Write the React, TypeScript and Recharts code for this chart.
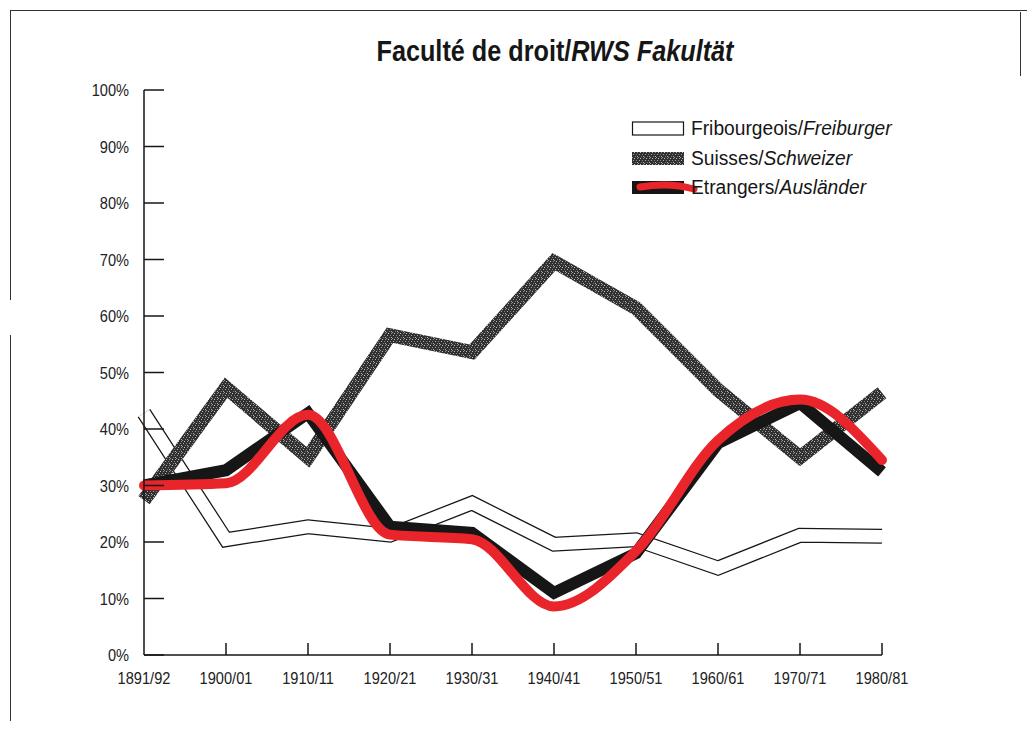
import React from 'react';
import { LineChart, Line, XAxis, YAxis, Legend } from 'recharts';

// Faculté de droit – share of students by origin (%)
const years = ['1891/92', '1900/01', '1910/11', '1920/21', '1930/31', '1940/41', '1950/51', '1960/61', '1970/71', '1980/81'];
const fribourgeois = [42.8, 20.4, 22.7, 21.2, 26.9, 19.6, 20.4, 15.4, 21.2, 21];
const suisses = [27.4, 47.3, 35, 56.6, 53.6, 69.6, 61.4, 46.9, 35, 46.4];
const etrangers = [30, 32.7, 42.8, 22.7, 21.6, 11, 18, 37.5, 44.6, 32.4];
// red marker stroke drawn over the Etrangers line on the scan
const redTrace = [30, 30.4, 42.5, 21.3, 20.5, 8.6, 18.4, 38, 45.2, 34.5];
const yTicks = [0, 10, 20, 30, 40, 50, 60, 70, 80, 90, 100];

const legendItems = [
  { fr: 'Fribourgeois', de: 'Freiburger', kind: 'white' },
  { fr: 'Suisses', de: 'Schweizer', kind: 'gray' },
  { fr: 'Etrangers', de: 'Ausländer', kind: 'black' },
];

const data = years.map((year, i) => ({
  year,
  fribourgeois: fribourgeois[i],
  suisses: suisses[i],
  etrangers: etrangers[i],
  redTrace: redTrace[i],
}));

const W = 1019;
const H = 713;
const margin = { top: 82, right: 145, bottom: 36, left: 76 };
const Y_AXIS_W = 60;
const X_AXIS_H = 30;
const AXIS_X = margin.left + Y_AXIS_W;
const AXIS_Y = H - margin.bottom - X_AXIS_H;

const INK = '#161616';
const RED = '#e9252b';
const FONT = '"Liberation Sans", Arial, sans-serif';

const Speckle = ({ id }: { id: string }) => (
  <pattern id={id} width="6" height="6" patternUnits="userSpaceOnUse">
    <rect width="6" height="6" fill="#303030" />
    <rect x="0" y="0" width="1" height="1" fill="#9a9a9a" />
    <rect x="2" y="1" width="1" height="1" fill="#c4c4c4" />
    <rect x="4" y="3" width="1" height="1" fill="#858585" />
    <rect x="1" y="3" width="1" height="1" fill="#aaaaaa" />
    <rect x="3" y="5" width="1" height="1" fill="#7a7a7a" />
    <rect x="5" y="1" width="1" height="1" fill="#8e8e8e" />
    <rect x="5" y="5" width="1" height="1" fill="#b0b0b0" />
  </pattern>
);

const YTick = (props: any) => {
  const { y, payload } = props;
  return (
    <g>
      <line x1={AXIS_X} x2={AXIS_X + 20} y1={y} y2={y} stroke={INK} strokeWidth={1.5} />
      <text
        transform={`translate(${AXIS_X - 15},${y}) scale(0.86,1)`}
        dy="0.36em"
        textAnchor="end"
        fontSize={17}
        fontFamily={FONT}
        fill="#222"
      >
        {payload.value}%
      </text>
    </g>
  );
};

const XTick = (props: any) => {
  const { x, payload, index } = props;
  return (
    <g>
      {index > 0 && <line x1={x} x2={x} y1={AXIS_Y} y2={AXIS_Y - 12} stroke={INK} strokeWidth={1.5} />}
      <text
        transform={`translate(${x},${AXIS_Y + 29}) scale(0.86,1)`}
        textAnchor="middle"
        fontSize={17}
        fontFamily={FONT}
        fill="#222"
      >
        {payload.value}
      </text>
    </g>
  );
};

const LegendBox = () => (
  <div style={{ fontFamily: FONT, fontSize: 20, color: INK }}>
    {legendItems.map((item) => (
      <div key={item.kind} style={{ display: 'flex', alignItems: 'center', height: 29.5 }}>
        <svg width={52} height={15} style={{ overflow: 'visible', flex: 'none' }}>
          <defs>
            <Speckle id="speckle-legend" />
          </defs>
          {item.kind === 'white' && <rect x={0.5} y={1} width={51} height={13} fill="#fff" stroke={INK} strokeWidth={1.2} />}
          {item.kind === 'gray' && <rect x={0} y={1} width={52} height={13} fill="url(#speckle-legend)" />}
          {item.kind === 'black' && (
            <>
              <rect x={0} y={1} width={52} height={13} fill={INK} />
              <path d="M 8 7 Q 38 2 62 9" fill="none" stroke={RED} strokeWidth={7} strokeLinecap="round" />
            </>
          )}
        </svg>
        <span style={{ marginLeft: 7, display: 'inline-block', transform: 'scaleX(0.96)', transformOrigin: '0 50%', whiteSpace: 'nowrap' }}>
          {item.fr}/<span style={{ fontStyle: 'italic' }}>{item.de}</span>
        </span>
      </div>
    ))}
  </div>
);

export default function App() {
  return (
    <div style={{ position: 'relative', width: W, height: H }}>
      {/* scan frame edges */}
      <div style={{ position: 'absolute', left: 2, top: 2, width: W - 2, height: 0, borderTop: '1.5px solid #333' }} />
      <div style={{ position: 'absolute', left: 2, top: 2, width: 0, height: 290, borderLeft: '1.5px solid #333' }} />
      <div style={{ position: 'absolute', left: 2, top: 327, width: 0, height: H - 319, borderLeft: '1.5px solid #333' }} />
      <div style={{ position: 'absolute', left: W - 7, top: 4, width: 0, height: 64, borderLeft: '1.5px solid #333' }} />

      <div
        style={{
          position: 'absolute',
          left: 0,
          width: 1094,
          top: 29,
          textAlign: 'center',
          fontFamily: FONT,
          fontWeight: 'bold',
          fontSize: 29,
          lineHeight: '29px',
          color: INK,
          transform: 'scaleX(0.87)',
          transformOrigin: '547px 0',
        }}
      >
        Faculté de droit/<span style={{ fontStyle: 'italic' }}>RWS Fakultät</span>
      </div>

      <LineChart width={W} height={H} data={data} margin={margin}>
        <defs>
          <Speckle id="speckle" />
        </defs>
        <XAxis
          dataKey="year"
          height={X_AXIS_H}
          axisLine={{ stroke: INK, strokeWidth: 1.5 }}
          tickLine={false}
          tick={<XTick />}
          interval={0}
        />
        <YAxis
          type="number"
          domain={[0, 100]}
          ticks={yTicks}
          width={Y_AXIS_W}
          axisLine={{ stroke: INK, strokeWidth: 1.5 }}
          tickLine={false}
          tick={<YTick />}
          interval={0}
        />
        <Legend
          layout="vertical"
          verticalAlign="middle"
          align="center"
          content={<LegendBox />}
          wrapperStyle={{ position: 'absolute', left: 624, top: 106, width: 320, height: 90 }}
        />
        <Line dataKey="fribourgeois" stroke={INK} strokeWidth={15} strokeLinejoin="miter" strokeLinecap="butt" dot={false} activeDot={false} isAnimationActive={false} legendType="none" />
        <Line dataKey="fribourgeois" stroke="#fff" strokeWidth={12.5} strokeLinejoin="miter" strokeLinecap="butt" dot={false} activeDot={false} isAnimationActive={false} legendType="none" />
        <Line dataKey="suisses" stroke="url(#speckle)" strokeWidth={14} strokeLinejoin="miter" strokeLinecap="butt" dot={false} activeDot={false} isAnimationActive={false} legendType="none" />
        <Line dataKey="etrangers" stroke={INK} strokeWidth={12} strokeLinejoin="miter" strokeLinecap="butt" dot={false} activeDot={false} isAnimationActive={false} legendType="none" />
        <Line type="monotone" dataKey="redTrace" stroke={RED} strokeWidth={10} strokeLinejoin="round" strokeLinecap="round" dot={false} activeDot={false} isAnimationActive={false} legendType="none" />
      </LineChart>
    </div>
  );
}
